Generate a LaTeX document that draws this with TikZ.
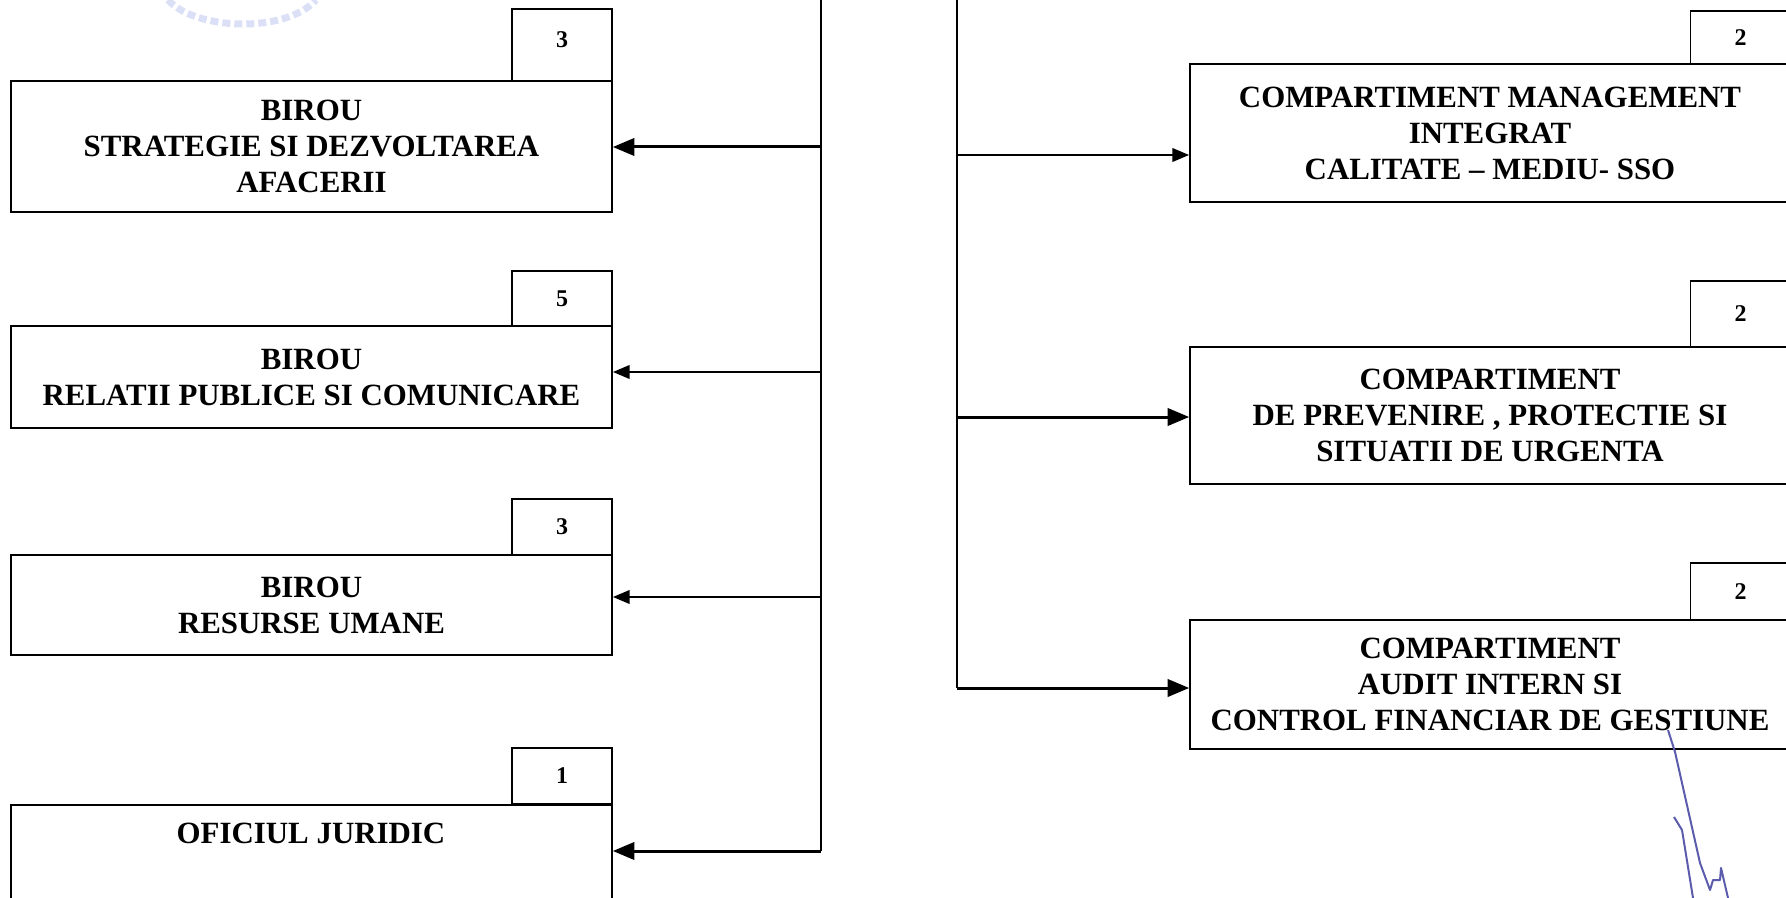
\documentclass[tikz,border=0pt]{standalone}
\usepackage{fontspec}
\setmainfont{Liberation Serif}
\usepackage{pgf,tikz}
\usetikzlibrary{arrows}
\definecolor{stampblue}{rgb}{0.86,0.88,0.97}
\definecolor{signblue}{rgb}{0.36,0.36,0.68}
\tikzset{
    officebox/.style={draw=black,line width=1pt,fill=white,align=center,inner sep=0pt,
        font=\fontsize{15.45}{18}\selectfont\bfseries},
    countbox/.style={draw=black,line width=0.8pt,fill=white,inner sep=0pt,
        font=\fontsize{12}{14}\selectfont\bfseries},
    thinlink/.style={->,line width=0.9pt},
    boldlink/.style={->,line width=1.5pt}
    }
\begin{document}
\begin{tikzpicture}[line cap=butt,line join=miter,>=triangle 45,x=0.5pt,y=-0.5pt]
\useasboundingbox (0,0) rectangle (1786,898);
% left column
\node[countbox,minimum width=50pt,minimum height=36pt] (countStrategy) at (562,45) {\raisebox{5pt}{3}};
\node[officebox,minimum width=300.5pt,minimum height=65.5pt] (strategy) at (311.5,146.5) {BIROU\\STRATEGIE SI DEZVOLTAREA\\AFACERII};
\node[countbox,minimum width=50pt,minimum height=28pt] (countPublic) at (562,299) {5};
\node[officebox,minimum width=300.5pt,minimum height=50.5pt] (public) at (311.5,377) {BIROU\\RELATII PUBLICE SI COMUNICARE};
\node[countbox,minimum width=50pt,minimum height=28pt] (countResurse) at (562,527) {3};
\node[officebox,minimum width=300.5pt,minimum height=50pt] (resurse) at (311.5,605) {BIROU\\RESURSE UMANE};
\node[countbox,minimum width=50pt,minimum height=28pt] (countJuridic) at (562,776) {1};
\node[officebox,minimum width=300.5pt,minimum height=58pt,anchor=north] (juridic) at (311.5,804) {};
\node[font=\fontsize{15.45}{18}\selectfont\bfseries] (juridicText) at (311,833) {OFICIUL JURIDIC};
% right column
\node[countbox,minimum width=50pt,minimum height=26.5pt] (countCalitate) at (1740.5,37.5) {2};
\node[officebox,minimum width=300pt,minimum height=69pt] (calitate) at (1490,133) {COMPARTIMENT MANAGEMENT\\INTEGRAT\\CALITATE -- MEDIU- SSO};
\node[countbox,minimum width=50pt,minimum height=33pt] (countPrevenire) at (1740.5,314) {2};
\node[officebox,minimum width=300pt,minimum height=68.5pt] (prevenire) at (1490,415.5) {COMPARTIMENT\\DE PREVENIRE , PROTECTIE SI\\SITUATII DE URGENTA};
\node[countbox,minimum width=50pt,minimum height=28.5pt] (countAudit) at (1740.5,591.5) {2};
\node[officebox,minimum width=300pt,minimum height=64.5pt] (audit) at (1490,684.5) {COMPARTIMENT\\AUDIT INTERN SI\\CONTROL FINANCIAR DE GESTIUNE};
% trunks
\coordinate (leftTop) at (821,0);
\coordinate (leftEnd) at (821,851);
\coordinate (rightTop) at (957,0);
\coordinate (rightEnd) at (957,688);
\draw[line width=0.9pt] (leftTop) -- (leftEnd);
\draw[line width=0.9pt] (rightTop) -- (rightEnd);
\foreach \y/\n/\s in {147/strategy/boldlink,372/public/thinlink,597/resurse/thinlink,851/juridic/boldlink}
\draw[\s] (821,\y) -- (\n.east |- 0,\y);
\foreach \y/\n/\s in {155/calitate/thinlink,417/prevenire/boldlink,688/audit/boldlink}
\draw[\s] (957,\y) -- (\n.west |- 0,\y);
% stamp and signature
\draw[stampblue,line width=3.5pt,dash pattern=on 4pt off 2pt] (168,0) .. controls (195,30) and (285,34) .. (316,0);
\draw[signblue,line width=1pt,line join=round] (1668,730) -- (1675,752) -- (1700,863) -- (1710,890) -- (1713,880) -- (1720,880) -- (1721,868) -- (1728,898);
\draw[signblue,line width=1pt,line join=round] (1674,817) -- (1682,830) -- (1693,898);
\end{tikzpicture}
\end{document}
